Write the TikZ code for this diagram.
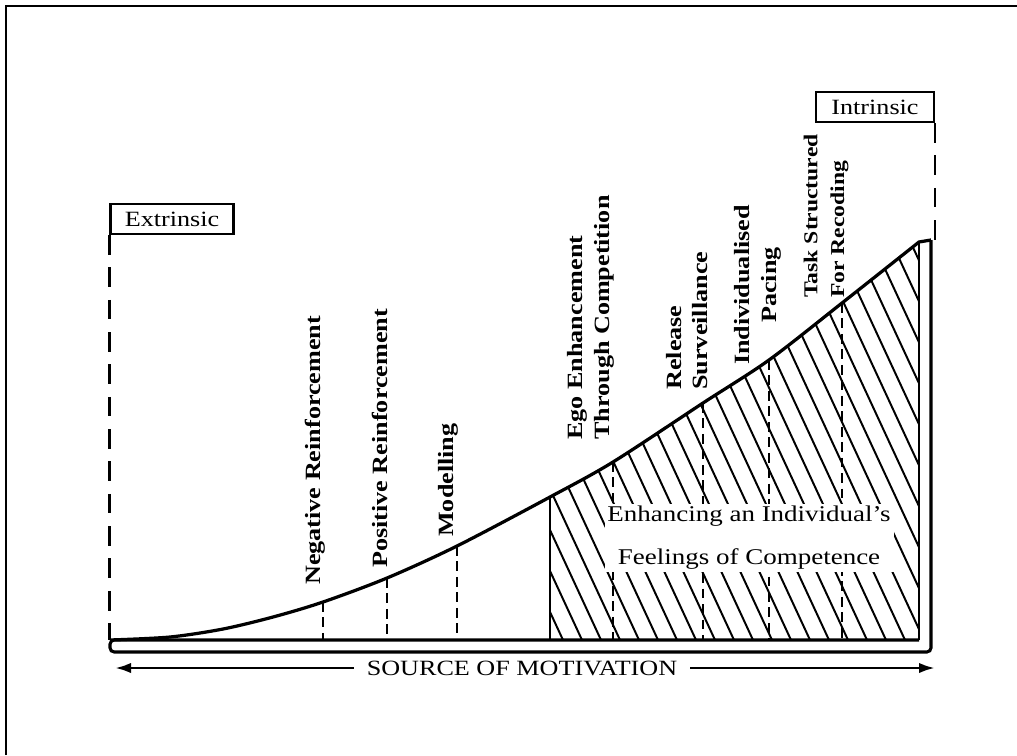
\documentclass[tikz,border=0pt]{standalone}
\usepackage{fontspec}
\setmainfont{Liberation Serif}[FakeStretch=1.2]
\usepackage{tikz}
\usetikzlibrary{arrows.meta}
\tikzstyle{tag} = [draw, line width=1.6pt, inner sep=0pt, minimum height=7.5mm, font=\fontsize{15.5}{18}\selectfont]
\tikzstyle{stage} = [rotate=90, anchor=west, align=left, inner sep=0pt, font=\bfseries\fontsize{15.5}{19}\selectfont]
\tikzstyle{guide} = [draw, line width=1.9pt, dash pattern=on 7pt off 4pt]
\tikzstyle{longguide} = [draw, line width=1.6pt, dash pattern=on 14pt off 9pt]
\tikzstyle{hatch} = [draw, line width=1.4pt]
\tikzstyle{line} = [draw, line width=2pt, -{Latex[length=4mm, width=2.6mm]}]

\begin{document}
\begin{tikzpicture}[x=0.25mm, y=-0.25mm, font=\fontsize{15.5}{18}\selectfont]
    \useasboundingbox (0,0) rectangle (1017,755);
    % frame
    \draw[line width=1.4pt] (6,755) -- (6,6) -- (1017,6);

    % Place nodes
    \node [tag, minimum width=30.75mm] (extr) at (172,219) {Extrinsic};
    \node [tag, minimum width=29.5mm] (intr) at (875,107) {Intrinsic};
    \coordinate (base) at (110,640);
    \coordinate (top) at (931,240);
    \coordinate (neg) at (323,602);
    \coordinate (pos) at (387,578);
    \coordinate (mod) at (457,546);
    \coordinate (ego) at (613,462);
    \coordinate (rel) at (703,403);
    \coordinate (ind) at (769,360);
    \coordinate (task) at (842,303);

    % hatched part under the curve
    \begin{scope}
        \clip (550,0) rectangle (919,640);
        \clip plot[smooth] coordinates {(110,640) (170,637) (223,629) (273,617) (323,602) (387,578) (457,546) (550,497) (613,462) (703,403) (769,360) (842,303) (919,242)} -- (919,640) -- cycle;
        \foreach \x in {340,359,...,920}
            \draw[hatch] (\x,200) -- ++(204,440);
    \end{scope}
    \draw[hatch] (550,640) -- (550,497);
    \draw[hatch] (919,640) -- (919,243);

    % Draw edges
    \path [guide] (neg) -- (neg |- base);
    \path [guide] (pos) -- (pos |- base);
    \path [guide] (mod) -- (mod |- base);
    \path [guide] (ego) -- (ego |- base);
    \path [guide] (rel) -- (rel |- base);
    \path [guide] (ind) -- (ind |- base);
    \path [guide] (task) -- (task |- base);
    \path [longguide] (extr.south west) -- (extr.south west |- base);
    \path [longguide] (intr.south east) -- (intr.south east |- top);

    \node [fill=white, align=center, inner sep=2pt, font=\fontsize{16}{30.5}\selectfont] (comp) at (749,538) {Enhancing an Individual's\\Feelings of Competence};

    % base bar and curve
    \draw[line width=2.2pt, rounded corners=3pt] (top) -- (top |- 0,652) -- (110,652) -- (base) -- (919,640);
    \draw[line width=2.3pt] plot[smooth] coordinates {(110,640) (170,637) (223,629) (273,617) (323,602) (387,578) (457,546) (550,497) (613,462) (703,403) (769,360) (842,303) (919,242)} -- (top);

    % labels
    \node [stage] (neglbl) at (315,585) {Negative Reinforcement};
    \node [stage] (poslbl) at (380,568) {Positive Reinforcement};
    \node [stage] (modlbl) at (448,537) {Modelling};
    \node [stage] (egolbl) at (591,440) {Ego Enhancement\\Through Competition};
    \node [stage] (rellbl) at (687,390) {Release\\Surveillance};
    \node [stage, anchor=center, align=center] (indlbl) at (758,285) {Individualised\\Pacing};
    \node [stage, font=\bfseries\fontsize{14}{19}\selectfont] (tasklbl) at (826,298) {Task Structured\\For Recoding};

    \node [inner sep=9pt] (src) at (522,668) {SOURCE OF MOTIVATION};
    \coordinate (srcl) at (115,668);
    \coordinate (srcr) at (935,668);
    \path [line] (src) -- (srcl);
    \path [line] (src) -- (srcr);
\end{tikzpicture}
\end{document}
